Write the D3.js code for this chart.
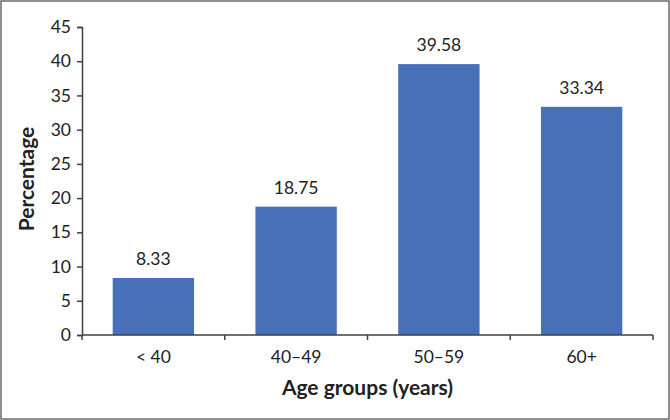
<!DOCTYPE html>
<html>
<head>
<meta charset="utf-8">
<script src="https://cdn.jsdelivr.net/npm/d3@7"></script>
<style>
  body { margin: 0; background: #fff; }
  text { font-family: Lato, "Open Sans", sans-serif; fill: #222; }
</style>
</head>
<body>
<div id="viz"></div>
<script>
const categories = ["< 40", "40\u201349", "50\u201359", "60+"];
const percentages = [8.33, 18.75, 39.58, 33.34];
const yTicks = [0, 5, 10, 15, 20, 25, 30, 35, 40, 45];

const width = 670;
const height = 420;
const margin = { top: 27, right: 17, bottom: 85, left: 82 };

const svg = d3.select("#viz").append("svg")
    .attr("width", width)
    .attr("height", height);

// outer frame
svg.append("rect")
    .attr("x", 1).attr("y", 1)
    .attr("width", width - 2).attr("height", height - 2)
    .attr("fill", "none")
    .attr("stroke", "#6b6b6b")
    .attr("stroke-width", 1.5);

const x = d3.scaleBand()
    .domain(categories)
    .range([margin.left, width - margin.right])
    .paddingInner(0.43)
    .paddingOuter(0.215);

const y = d3.scaleLinear()
    .domain([0, 45])
    .range([height - margin.bottom, margin.top]);

svg.selectAll("rect.bar")
    .data(percentages)
    .enter()
    .append("rect")
    .attr("class", "bar")
    .attr("x", (d, i) => x(categories[i]))
    .attr("y", d => y(d))
    .attr("width", x.bandwidth())
    .attr("height", d => y(0) - y(d))
    .attr("fill", "#4870b8");

svg.selectAll("text.val")
    .data(percentages)
    .enter()
    .append("text")
    .attr("class", "val")
    .attr("x", (d, i) => x(categories[i]) + x.bandwidth() / 2)
    .attr("y", d => y(d) - 13)
    .attr("text-anchor", "middle")
    .style("font-size", "17.5px")
    .text(d => d.toFixed(2));

// y axis
const yAxis = svg.append("g")
    .attr("transform", `translate(${margin.left},0)`)
    .call(d3.axisLeft(y).tickValues(yTicks).tickSize(5).tickPadding(6));
yAxis.selectAll("text").style("font-size", "17.5px").attr("fill", "#222");

// x axis with ticks at category boundaries
const bounds = d3.range(categories.length + 1).map(i => margin.left + i * x.step());
const xAxis = svg.append("g")
    .attr("transform", `translate(0,${y(0)})`);
xAxis.append("line")
    .attr("x1", margin.left).attr("x2", width - margin.right)
    .attr("stroke", "#404040").attr("stroke-width", 1.5);
xAxis.selectAll("line.tk")
    .data(bounds)
    .enter()
    .append("line")
    .attr("class", "tk")
    .attr("x1", d => d).attr("x2", d => d)
    .attr("y1", 0).attr("y2", 5)
    .attr("stroke", "#404040").attr("stroke-width", 1.5);
xAxis.selectAll("text")
    .data(categories)
    .enter()
    .append("text")
    .attr("x", d => x(d) + x.bandwidth() / 2)
    .attr("y", 28)
    .attr("text-anchor", "middle")
    .style("font-size", "17.5px")
    .text(d => d);

yAxis.select(".domain").attr("stroke", "#404040").attr("stroke-width", 1.5);
yAxis.selectAll(".tick line").attr("stroke", "#404040").attr("stroke-width", 1.5);

// axis titles
svg.append("text")
    .attr("x", (margin.left + width - margin.right) / 2)
    .attr("y", 395)
    .attr("text-anchor", "middle")
    .style("font-size", "21px")
    .style("font-weight", "bold")
    .text("Age groups (years)");

svg.append("text")
    .attr("transform", `translate(34,${(y(0) + y(45)) / 2 - 2}) rotate(-90)`)
    .attr("text-anchor", "middle")
    .style("font-size", "21px")
    .style("font-weight", "bold")
    .text("Percentage");
</script>
</body>
</html>
